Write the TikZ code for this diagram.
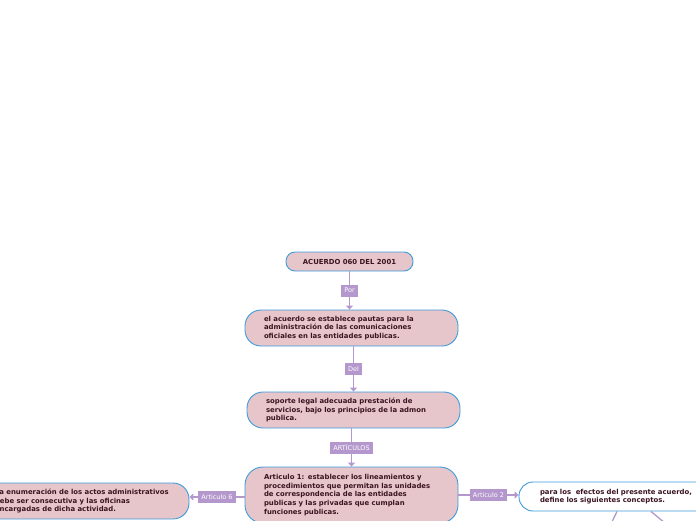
\documentclass[tikz,border=0pt]{standalone}
\usepackage{fontspec}
\setmainfont{DejaVu Sans}
\usetikzlibrary{arrows.meta}
\definecolor{boxfill}{HTML}{E6C6CB}
\definecolor{boxline}{HTML}{3D9BDB}
\definecolor{connc}{HTML}{B497CC}
\definecolor{txtc}{HTML}{3A1420}
\begin{document}
\begin{tikzpicture}[x=1pt,y=-1pt,
  topic/.style={draw=boxline, line width=0.9pt, fill=boxfill, rectangle,
    text=txtc, font=\bfseries\fontsize{6.9}{8.6}\selectfont, align=left,
    inner xsep=19pt, inner ysep=0pt, text width=175pt, minimum height=36pt,
    rounded corners=16pt},
  lbl/.style={fill=connc, text=white, font=\fontsize{6.5}{7}\selectfont,
    inner xsep=3pt, inner ysep=0pt, minimum height=12pt, rectangle},
  conn/.style={draw=connc, line width=1.3pt},
  arr/.style={conn, -{Triangle[length=4pt,width=7pt]}}
]
\useasboundingbox (0,0) rectangle (696,520);
\clip (0,0) rectangle (696,520);

\node[topic, text width=, align=center, inner xsep=0pt, minimum width=127pt,
      minimum height=19pt, rounded corners=9pt] (title) at (349.5,261.5) {ACUERDO 060 DEL 2001};

\node[topic] (box2) at (351.5,328) {el acuerdo se establece pautas para la\\administración de las comunicaciones\\oficiales en las entidades publicas.};

\node[topic] (box3) at (353.5,410) {soporte legal adecuada prestación de\\servicios, bajo los principios de la admon\\publica.};

\node[topic, minimum height=56pt, rounded corners=18pt] (box4) at (351.5,495) {Articulo 1: establecer los lineamientos y\\procedimientos que permitan las unidades\\de correspondencia de las entidades\\publicas y las privadas que cumplan\\funciones publicas.};

\node[topic] (lbox) at (82.5,501) {La enumeración de los actos administrativos\\debe ser consecutiva y las oficinas\\encargadas de dicha actividad.};

\node[topic, fill=white, minimum height=29pt, inner xsep=21pt, text width=171pt, rounded corners=14pt] (rbox) at (625.5,496.5) {para los~ efectos del presente acuerdo,\\define los siguientes conceptos.};

\draw[arr] (title.south) -- node[lbl] (lpor) {Por} (title.south |- box2.north);
\draw[arr] (box3.north |- box2.south) -- node[lbl] (ldel) {Del} (box3.north);
\draw[arr] (box4.north |- box3.south) -- node[lbl] (lart) {ARTÍCULOS} (box4.north);
\draw[arr] (box4.west |- 0,497) -- node[lbl] (la6) {Articulo 6} (lbox.east |- 0,497);
\draw[arr] (box4.east |- 0,495) -- node[lbl] (la2) {Articulo 2} (rbox.west |- 0,495);

\coordinate (c1) at (609,528);
\coordinate (c2) at (671,528);
\draw[conn] (rbox.south -| 617,0) -- (c1);
\draw[conn] (rbox.south -| 651,0) -- (c2);
\end{tikzpicture}
\end{document}
